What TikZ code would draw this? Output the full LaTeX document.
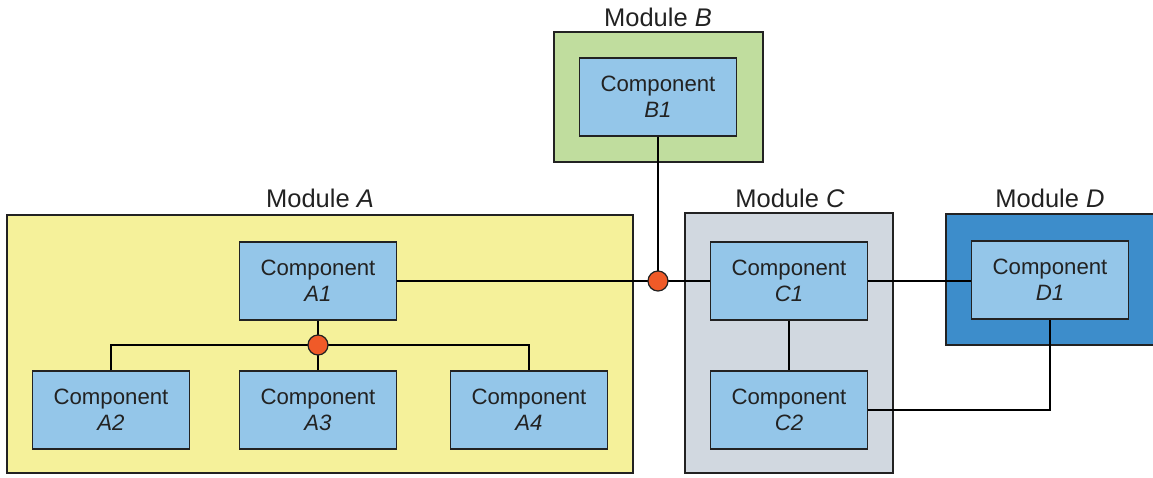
\documentclass[tikz,border=0pt]{standalone}
\usepackage{fontspec}
\setmainfont{Liberation Sans}
\definecolor{modA}{HTML}{F5F19A}
\definecolor{modB}{HTML}{C0DD9E}
\definecolor{modC}{HTML}{D1D8E0}
\definecolor{modD}{HTML}{3D8DCB}
\definecolor{compfill}{HTML}{94C6E9}
\definecolor{joint}{HTML}{F05A28}
\definecolor{ink}{HTML}{222222}
\tikzset{
  module/.style={draw=ink,line width=2pt},
  comp/.style={draw=ink,line width=1.3pt,fill=compfill,minimum width=157pt,minimum height=78pt,
    align=center,text=ink,font=\fontsize{22.2}{26}\selectfont,inner sep=0pt},
  modlabel/.style={text=ink,font=\fontsize{25.5}{28}\selectfont},
  wire/.style={draw=black,line width=1.8pt},
  dot/.style={circle,draw=ink,line width=1.2pt,fill=joint,minimum size=20pt,inner sep=0pt}
}
\begin{document}
\begin{tikzpicture}[x=1pt,y=-1pt]
  \useasboundingbox (0,0) rectangle (1153,477);
  \clip (0,0) rectangle (1153,477);
  % modules
  \draw[module,fill=modA] (7,215) rectangle (633,473);
  \draw[module,fill=modB] (554,32) rectangle (763,162);
  \draw[module,fill=modC] (685,213) rectangle (893,473);
  \draw[module,fill=modD] (946,214) rectangle (1160,345);
  \node[modlabel] (labA) at (320,198) {Module \textit{A}};
  \node[modlabel] (labB) at (658,17) {Module \textit{B}};
  \node[modlabel] (labC) at (790,198) {Module \textit{C}};
  \node[modlabel] (labD) at (1050,198) {Module \textit{D}};
  % components
  \node[comp] (b1) at (658,97) {Component\\\textit{B1}};
  \node[comp] (a1) at (318,281) {Component\\\textit{A1}};
  \node[comp] (a2) at (111,410) {Component\\\textit{A2}};
  \node[comp] (a3) at (318,410) {Component\\\textit{A3}};
  \node[comp] (a4) at (529,410) {Component\\\textit{A4}};
  \node[comp] (c1) at (789,281) {Component\\\textit{C1}};
  \node[comp] (c2) at (789,410) {Component\\\textit{C2}};
  \node[comp] (d1) at (1050,280) {Component\\\textit{D1}};
  % junctions
  \coordinate (busA) at (318,345);
  \coordinate (busC) at (658,281);
  % connectors
  \draw[wire] (a1) -- (busA);
  \draw[wire] (a2.north) |- (busA) -| (a4.north);
  \draw[wire] (busA) -- (a3);
  \draw[wire] (a1) -- (c1);
  \draw[wire] (b1) -- (busC);
  \draw[wire] (c1) -- (d1.west |- c1);
  \draw[wire] (c1) -- (c2);
  \draw[wire] (c2.east) -| (d1.south);
  \node[dot] (jA) at (busA) {};
  \node[dot] (jC) at (busC) {};
\end{tikzpicture}
\end{document}
